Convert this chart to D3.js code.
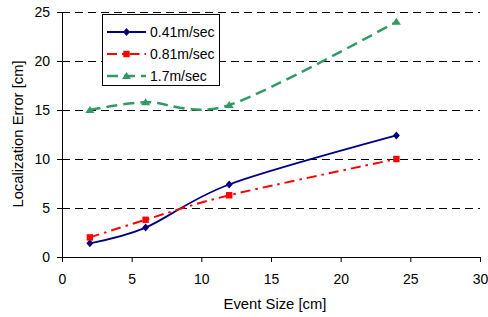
<!DOCTYPE html>
<html>
<head>
<meta charset="utf-8">
<script src="https://cdn.jsdelivr.net/npm/d3@7"></script>
<style>
  body { margin: 0; background: #fff; }
  text { font-family: "Liberation Sans", Arial, sans-serif; fill: #000; }
</style>
</head>
<body>
<div id="chart"></div>
<script>
const W = 488, H = 317;

// data
const event_size = [2, 6, 12, 24];
const err_041 = [1.4, 3.0, 7.4, 12.4];
const err_081 = [2.0, 3.8, 6.3, 10.0];
const err_17 = [15.0, 15.8, 15.5, 24.0];
const series_names = ["0.41m/sec", "0.81m/sec", "1.7m/sec"];
const x_ticks = [0, 5, 10, 15, 20, 25, 30];
const y_ticks = [0, 5, 10, 15, 20, 25];

const smooth = d3.curveCardinal.tension(0.1);
const series = [
  { name: series_names[0], values: err_041, color: "#000080", dash: null, width: 1.8, marker: "diamond" },
  { name: series_names[1], values: err_081, color: "#ff0000", dash: "10,5,2.5,5", width: 2, marker: "square" },
  { name: series_names[2], values: err_17, color: "#339966", dash: "11,6", width: 2.5, marker: "triangle" }
];

const svg = d3.select("#chart").append("svg")
  .attr("width", W).attr("height", H);

const x = d3.scaleLinear().domain([0, 30]).range([62, 480]);
const y = d3.scaleLinear().domain([0, 25]).range([257, 12]);

// gridlines
svg.append("g").selectAll("line")
  .data(y_ticks.filter(d => d > 0))
  .enter().append("line")
  .attr("x1", x(0)).attr("x2", x(30))
  .attr("y1", d => y(d)).attr("y2", d => y(d))
  .attr("stroke", "#000").attr("stroke-width", 1)
  .attr("stroke-dasharray", "8,5")
  .attr("shape-rendering", "crispEdges");

// axes
const x_axis = svg.append("g")
  .attr("transform", "translate(0," + y(0) + ")")
  .call(d3.axisBottom(x).tickValues(x_ticks).tickSize(5).tickPadding(12));
const y_axis = svg.append("g")
  .attr("transform", "translate(" + x(0) + ",0)")
  .call(d3.axisLeft(y).tickValues(y_ticks).tickSize(5).tickPadding(7));
[x_axis, y_axis].forEach(function(a) {
  a.select(".domain").attr("stroke", "#000");
  a.selectAll(".tick line").attr("stroke", "#000");
  a.selectAll("text").attr("font-size", 14)
    .style("font-family", '"Liberation Sans", Arial, sans-serif');
});

svg.append("text")
  .attr("x", 275).attr("y", 309)
  .attr("text-anchor", "middle").attr("font-size", 14.8)
  .text("Event Size [cm]");
svg.append("text")
  .attr("transform", "translate(23,134) rotate(-90)")
  .attr("text-anchor", "middle").attr("font-size", 14.8)
  .text("Localization Error [cm]");

function draw_marker(g, type, color, cx, cy) {
  if (type === "diamond") {
    g.append("path")
      .attr("d", "M" + cx + "," + (cy - 4) + "L" + (cx + 3.5) + "," + cy + "L" + cx + "," + (cy + 4) + "L" + (cx - 3.5) + "," + cy + "Z")
      .attr("fill", color);
  } else if (type === "square") {
    g.append("rect")
      .attr("x", cx - 3.2).attr("y", cy - 3.2)
      .attr("width", 6.4).attr("height", 6.4)
      .attr("fill", color);
  } else {
    g.append("path")
      .attr("d", "M" + cx + "," + (cy - 4) + "L" + (cx + 4.5) + "," + (cy + 3) + "L" + (cx - 4.5) + "," + (cy + 3) + "Z")
      .attr("fill", color);
  }
}

series.forEach(function(s) {
  const pts = event_size.map((e, i) => [e, s.values[i]]);
  const line = d3.line()
    .x(d => x(d[0])).y(d => y(d[1]))
    .curve(smooth);
  svg.append("path")
    .attr("d", line(pts))
    .attr("fill", "none")
    .attr("stroke", s.color)
    .attr("stroke-width", s.width)
    .attr("stroke-dasharray", s.dash);
  const mg = svg.append("g");
  pts.forEach(function(p) {
    draw_marker(mg, s.marker, s.color, x(p[0]), y(p[1]));
  });
});

// legend
const legend = svg.append("g");
legend.append("rect")
  .attr("x", 102.5).attr("y", 14.5)
  .attr("width", 117).attr("height", 71)
  .attr("fill", "#fff").attr("stroke", "#000");
series.forEach(function(s, i) {
  const ly = 32 + i * 22;
  legend.append("line")
    .attr("x1", 107).attr("x2", 146)
    .attr("y1", ly).attr("y2", ly)
    .attr("stroke", s.color).attr("stroke-width", s.width)
    .attr("stroke-dasharray", s.dash);
  draw_marker(legend, s.marker, s.color, 126.5, ly);
  legend.append("text")
    .attr("x", 150).attr("y", ly + 5)
    .attr("font-size", 14)
    .text(s.name);
});
</script>
</body>
</html>
